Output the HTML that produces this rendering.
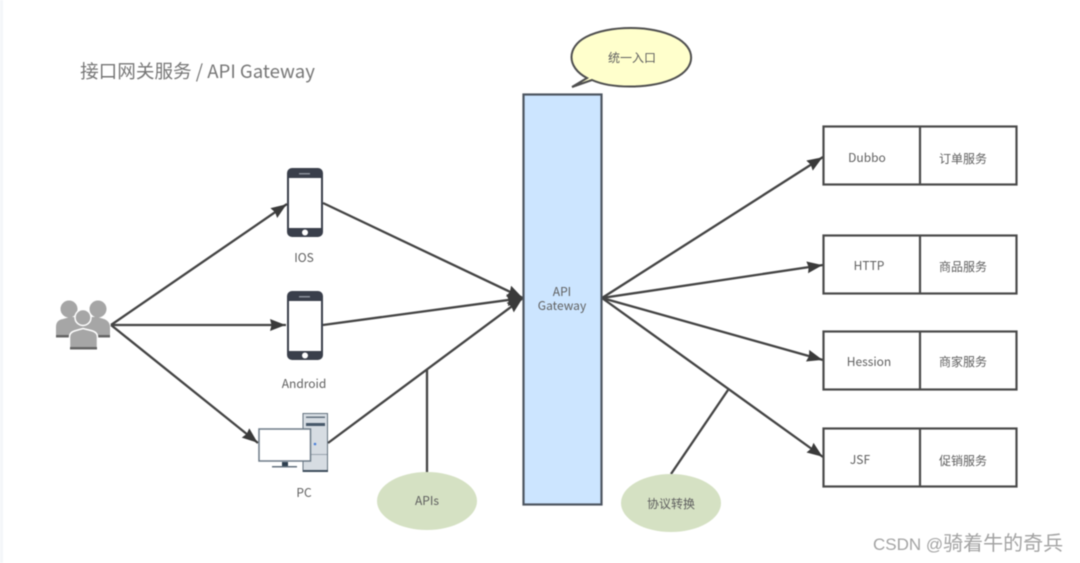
<!DOCTYPE html>
<html><head><meta charset="utf-8"><style>
html,body{margin:0;padding:0;background:#fff;width:1080px;height:563px;overflow:hidden}
svg{display:block;filter:blur(.4px)}
text{font-family:"Noto Sans CJK SC","Liberation Sans",sans-serif;fill:#5f5f5f;font-size:12px;text-anchor:middle}
.l{stroke:#444;stroke-width:2.300;fill:none}
.b{fill:#fff;stroke:#4a4a4a;stroke-width:2.200}
</style></head><body>
<svg width="1080" height="563" viewBox="0 0 1080 563" xmlns="http://www.w3.org/2000/svg">
<defs><marker id="a" markerUnits="userSpaceOnUse" markerWidth="18" markerHeight="14" refX="16" refY="6" orient="auto"><path d="M0 0L15.500 6L0 12L1.500 6Z" fill="#3a3a3a"/></marker></defs>
<rect width="1080" height="563" fill="#fff"/>
<rect width="3" height="563" fill="#f4f6f9"/>
<text x="197.500" y="78" style="font-size:18.600px;fill:#777">接口网关服务 / API Gateway</text>

<!-- connectors -->
<path class="l" d="M111 325L287 204" marker-end="url(#a)"/>
<path class="l" d="M111 325L286 325" marker-end="url(#a)"/>
<path class="l" d="M111 325L258 443" marker-end="url(#a)"/>
<path class="l" d="M323 203L523 298" marker-end="url(#a)"/>
<path class="l" d="M323 325L523 298" marker-end="url(#a)"/>
<path class="l" d="M328 443L523 298" marker-end="url(#a)"/>
<path class="l" d="M602 298L823 157" marker-end="url(#a)"/>
<path class="l" d="M602 298L823 265" marker-end="url(#a)"/>
<path class="l" d="M602 298L823 360" marker-end="url(#a)"/>
<path class="l" d="M602 298L823 457" marker-end="url(#a)"/>
<path class="l" d="M427 472V370"/>
<path class="l" d="M671 474L728 390"/>

<!-- gateway -->
<rect x="523.500" y="94.500" width="78" height="410" fill="#cce5ff" stroke="#4d5560" stroke-width="2.200"/>
<text x="562" y="296">API</text><text x="562" y="310">Gateway</text>

<!-- bubble -->
<path d="M587 78C566 67 567 47 586 37C609 25 652 25 675 37C697 48 696 68 675 78C652 89 612 89 592 80L572 87Z" fill="#ffffcc" stroke="#4f4f4f" stroke-width="2"/>
<text x="632" y="62">统一入口</text>

<!-- services -->
<rect class="b" x="823.500" y="126.500" width="193" height="58"/><path class="b" d="M920 126V185"/>
<text x="867" y="162">Dubbo</text><text x="963" y="163">订单服务</text>
<rect class="b" x="823.500" y="235.500" width="193" height="58"/><path class="b" d="M920 235V294"/>
<text x="869" y="270">HTTP</text><text x="963" y="271">商品服务</text>
<rect class="b" x="823.500" y="331.500" width="193" height="58"/><path class="b" d="M920 331V390"/>
<text x="869" y="366">Hession</text><text x="963" y="366">商家服务</text>
<rect class="b" x="823.500" y="428.500" width="193" height="58"/><path class="b" d="M920 428V487"/>
<text x="860" y="464">JSF</text><text x="963" y="465">促销服务</text>

<!-- ellipses -->
<ellipse cx="427" cy="501" rx="50" ry="29" fill="#d5e1c3"/><text x="427" y="505">APIs</text>
<ellipse cx="671" cy="503" rx="50" ry="29" fill="#d5e1c3"/><text x="671" y="508">协议转换</text>

<!-- phones -->
<rect x="287" y="168" width="36" height="69" rx="5" fill="#3a3f4b"/>
<rect x="289" y="178" width="32" height="50" fill="#fff"/>
<circle cx="305" cy="232.500" r="3" fill="#fff"/>
<rect x="299" y="173" width="11" height="1.500" fill="#8a8f99"/>
<rect x="287" y="291" width="36" height="69" rx="5" fill="#3a3f4b"/>
<rect x="289" y="301" width="32" height="50" fill="#fff"/>
<circle cx="305" cy="355.500" r="3" fill="#fff"/>
<rect x="299" y="296" width="11" height="1.500" fill="#8a8f99"/>
<text x="304" y="262">IOS</text>
<text x="304" y="388">Android</text>
<text x="304" y="497">PC</text>

<!-- PC -->
<rect x="303" y="413.500" width="24.500" height="58" fill="#d6dce2" stroke="#64727f"/>
<rect x="303" y="470" width="25" height="2" fill="#3d4d5c"/>
<rect x="306" y="416.500" width="19" height="1.500" fill="#64727f"/>
<rect x="306" y="423" width="19" height="3" fill="#47586a"/>
<path d="M303 454.500H327" stroke="#9aa5af"/>
<circle cx="315" cy="444" r="1.300" fill="#4a80d8"/>
<rect x="259" y="429" width="51.500" height="32" fill="#fff" stroke="#6d7b88" stroke-width="1.500"/>
<rect x="282" y="462" width="6" height="5" fill="#2f4050"/>
<rect x="272" y="466" width="25" height="1.500" fill="#64727f"/>

<!-- users -->
<g fill="#a6a6a6">
<circle cx="69" cy="309" r="8.500"/><circle cx="98" cy="309" r="8.500"/>
<path d="M56 337V327Q56 320 63 319L70 317H97L104 319Q110 321 110 328V337Z"/>
<rect x="56" y="335" width="54" height="2.500" fill="#666"/>
<circle cx="83" cy="317.500" r="8" stroke="#fff" stroke-width="1.500"/>
<path d="M69.500 350V337Q69.500 332 76 330.500L83 328.500L91 330.500Q97.500 332 97.500 337V350Z" stroke="#fff" stroke-width="1.500"/>
<rect x="70" y="347" width="27" height="2.500" fill="#666"/>
</g>

<text x="873" y="550" style="font-size:20px;fill:#a3a3a3;text-anchor:start;font-family:'Liberation Sans','Noto Sans CJK SC',sans-serif"><tspan style="font-size:17px">CSDN @</tspan>骑着牛的奇兵</text>
</svg>
</body></html>
